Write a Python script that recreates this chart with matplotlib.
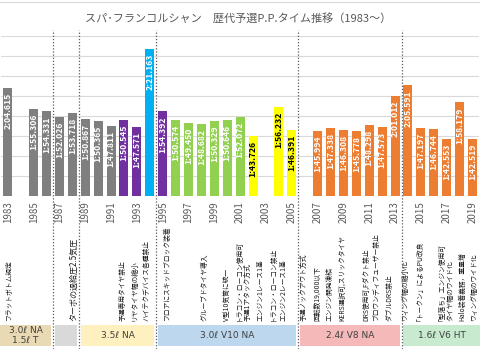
import matplotlib
matplotlib.use("Agg")
import matplotlib.pyplot as plt
import matplotlib.transforms as mtransforms
from matplotlib.patches import Rectangle
from matplotlib.lines import Line2D
import numpy as np

plt.rcParams['font.family'] = ['Noto Sans CJK JP', 'DejaVu Sans']

# ---- data ----
years = [1983, 1985, 1986, 1987, 1988, 1989, 1990, 1991, 1992, 1993, 1994,
         1995, 1996, 1997, 1998, 1999, 2000, 2001, 2002, 2004, 2005,
         2007, 2008, 2009, 2010, 2011, 2012, 2013, 2014, 2015, 2016,
         2017, 2018, 2019]
laps = ["2:04.615", "1:55.306", "1:54.331", "1:52.026", "1:53.718", "1:50.867",
        "1:50.365", "1:47.811", "1:50.545", "1:47.571", "2:21.163",
        "1:54.392", "1:50.574", "1:49.450", "1:48.682", "1:50.329", "1:50.646",
        "1:52.072", "1:43.726", "1:56.232", "1:46.391",
        "1:45.994", "1:47.338", "1:46.308", "1:45.778", "1:48.298", "1:47.573",
        "2:01.012", "2:05.591", "1:47.197", "1:46.744", "1:42.553", "1:58.179",
        "1:42.519"]
kinds = ["gray"] * 8 + ["purple", "purple", "cyan", "purple"] + ["green"] * 6 \
        + ["yellow"] * 3 + ["orange"] * 13

notes = ["フラットボトム規定", "ターボの過給圧2.5気圧", "予選専用タイヤ禁止",
         "リヤタイヤ幅の縮小", "ハイテクデバイス各種禁止", "フロアにスキッドブロック装着",
         "グルーブドタイヤ導入", "V型10気筒に統一", "トラコン・ローコン使用可",
         "予選1アタック方式", "エンジン1レース1基", "トラコン・ローコン禁止",
         "エンジン2レース1基", "予選ノックアウト方式", "回転数19,000以下",
         "エンジン開発凍結", "KERS選択可,スリックタイヤ", "DRS使用可,Fダクト禁止",
         "ブロウンディフューザー禁止", "ダブルDRS禁止", "ウィング幅の縮小化",
         "「トークン」によるPU改良", "「型落ち」エンジン使用可", "タイヤ幅のワイド化",
         "Halo装着義務，重量増", "ウィング幅のワイド化"]
note_years = [1983.0, 1988.07, 1991.87, 1992.85, 1993.76, 1995.3, 1998.27,
              2000.0, 2000.93, 2001.55, 2002.53, 2003.56, 2004.3, 2005.94,
              2006.97, 2007.9, 2008.86, 2010.75, 2011.57, 2012.6, 2013.8,
              2014.7, 2016.4, 2017.3, 2018.2, 2019.1]

eras = ["3.0ℓ NA\n1.5ℓ T", "", "3.5ℓ NA", "3.0ℓ V10 NA", "2.4ℓ V8 NA", "1.6ℓ V6 HT"]
era_edges = [1982.4, 1986.5, 1988.5, 1994.5, 2005.5, 2013.5, 2019.6]

title = "スパ･フランコルシャン　歴代予選P.P.タイム推移（1983～）"

# ---- styles ----
colors = {"gray": "#7f7f7f", "purple": "#7030a0", "cyan": "#00b0f0",
          "green": "#92d050", "yellow": "#ffff00", "orange": "#ed7d31"}
era_colors = ["#e9d9b4", "#d9d9d9", "#fff0c0", "#bdd7ee", "#f6b9b9", "#c8ebcf"]

secs = [int(m) * 60 + float(s) for m, s in (l.split(":") for l in laps)]

W, H = 480, 349
fig = plt.figure(figsize=(W / 100, H / 100), dpi=100)
ax = fig.add_axes([1.35 / W, 1 - 196 / H, 477.6 / W, 160 / H])

ax.bar(years, secs, width=0.7, color=[colors[k] for k in kinds], zorder=2)
for x, v, lap, k in zip(years, secs, laps, kinds):
    ax.annotate(lap, (x, v), xytext=(0, -3.5), textcoords="offset points",
                rotation=90, ha="center", va="top", fontsize=6.2,
                fontweight="bold", color="black" if k == "yellow" else "white",
                zorder=3)

ax.set_xlim(1982.5, 2019.5)
unit = 0.0001 * 86400  # excel time axis unit
ax.set_ylim(9 * unit, 17 * unit)
ax.set_yticks(np.arange(9, 18) * unit)
ax.set_yticklabels([])
ax.tick_params(axis="y", length=0)
ax.set_xticks(range(1983, 2020, 2))
ax.set_xticklabels([str(y) for y in range(1983, 2020, 2)], rotation=90,
                   fontsize=7, color="#595959")
ax.tick_params(axis="x", length=0, pad=4)
ax.grid(axis="y", color="#d9d9d9", lw=0.8)
ax.set_axisbelow(True)
for s in ax.spines.values():
    s.set_visible(False)

trans = mtransforms.blended_transform_factory(ax.transData, fig.transFigure)

# era boxes
for i, lab in enumerate(eras):
    x0 = era_edges[i] + (0.15 if i > 0 else 0)
    x1 = era_edges[i + 1] - (0.15 if i < len(eras) - 1 else 0)
    y0, y1 = 1 - 346 / H, 1 - 325 / H
    ax.add_patch(Rectangle((x0, y0), x1 - x0, y1 - y0, transform=trans,
                           facecolor=era_colors[i], edgecolor="none",
                           clip_on=False, zorder=4))
    if lab:
        ax.text((x0 + x1) / 2, (y0 + y1) / 2, lab, transform=trans,
                ha="center", va="center", fontsize=6.5, color="#404040",
                family=["DejaVu Sans"], linespacing=1.15, clip_on=False,
                zorder=5)

# era separators
for b in era_edges[1:-1]:
    ax.add_line(Line2D([b, b], [0, 1 - 30 / H], transform=trans,
                       ls=(0, (1, 1.5)), color="#595959", lw=0.9,
                       clip_on=False, zorder=6))

# regulation notes
for txt, x in zip(notes, note_years):
    ax.text(x, 1 - 321 / H, txt, transform=trans, rotation=90, ha="center",
            va="bottom", fontsize=5.8 if "ターボ" in txt else 4.9,
            color="#1a1a1a", clip_on=False)

fig.add_artist(Line2D([0, 1], [1 - 1.5 / H] * 2, transform=fig.transFigure,
                      color="#d9d9d9", lw=0.8))
fig.text(0.497, 1 - 18 / H, title, ha="center", va="center", fontsize=8,
         color="#595959")

fig.savefig("out.png", dpi=100)
